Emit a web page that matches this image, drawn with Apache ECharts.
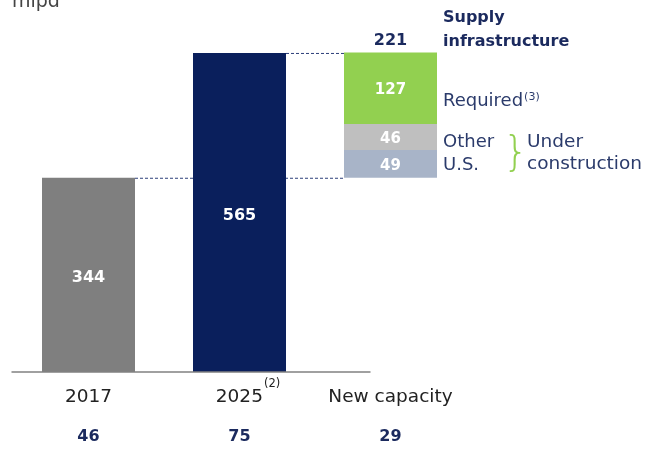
<!DOCTYPE html>
<html>
<head>
<meta charset="utf-8">
<script src="https://cdn.jsdelivr.net/npm/echarts@6/dist/echarts.min.js"></script>
<style>
  html, body { margin: 0; padding: 0; background: #fff; }
  #main { width: 659px; height: 451px; }
</style>
</head>
<body>
<div id="main"></div>
<script>
var categories = ['2017', '2025', 'New capacity'];
var subValues = ['46', '75', '29'];          // second row under the axis
var totals = [344, 565, 344];                // last one is the invisible base of the stack
var usUnder = ['-', '-', 49];
var otherUnder = ['-', '-', 46];
var required = ['-', '-', 127];
var newTotal = ['-', '-', 221];              // as printed (rounded)

var navy = '#0a1f5c';
var textNavy = '#1b2a5e';
var numFont = 'DejaVu Sans';
var txtFont = 'DejaVu Sans';
var BAR_W = 93;

var chart = echarts.init(document.getElementById('main'));

var segLabel = { show: true, position: 'inside', offset: [0, 2], fontFamily: numFont, fontSize: 15, fontWeight: 'bold', color: '#fff' };

var option = {
  animation: false,
  title: {
    text: 'mlpd',
    left: 7,
    top: -12,
    textStyle: { fontFamily: txtFont, fontSize: 19, fontWeight: 'normal', color: '#444' }
  },
  grid: { left: 13, width: 453, top: 33.2, bottom: 79 },
  xAxis: [{
    type: 'category',
    data: categories,
    axisLine: { show: false },
    axisTick: { show: false },
    axisLabel: {
      margin: 1,
      formatter: function (v) {
        // the empty p token balances the superscript so the year stays centred
        return v === '2025' ? '{p|}{c|' + v + '}{s|(2)}' : '{c|' + v + '}';
      },
      rich: {
        p: { width: 17, lineHeight: 34 },
        c: { fontFamily: txtFont, fontSize: 18.5, color: '#222', lineHeight: 34, verticalAlign: 'bottom' },
        s: { fontFamily: txtFont, fontSize: 11.5, color: '#222', verticalAlign: 'bottom', padding: [0, 0, 17, 1] }
      }
    }
  }, {
    type: 'category',
    data: subValues,
    position: 'bottom',
    axisLine: { show: false },
    axisTick: { show: false },
    axisLabel: {
      margin: 57,
      fontFamily: numFont,
      fontSize: 16,
      fontWeight: 'bold',
      color: textNavy
    }
  }],
  yAxis: {
    type: 'value',
    min: 0,
    max: 600,
    show: false,
    splitLine: { show: false }
  },
  series: [{
    type: 'bar',
    stack: 'a',
    barWidth: BAR_W,
    z: 3,
    data: totals.map(function (v, i) {
      if (i === 2) {
        return { value: v, itemStyle: { color: 'rgba(0,0,0,0)' }, label: { show: false } };
      }
      return { value: v, itemStyle: { color: i === 0 ? '#7f7f7f' : navy } };
    }),
    label: {
      show: true,
      position: 'inside',
      offset: [0, 3],
      fontFamily: numFont,
      fontSize: 16,
      fontWeight: 'bold',
      color: '#fff'
    }
  }, {
    type: 'bar',
    stack: 'a',
    z: 3,
    data: usUnder,
    itemStyle: { color: '#a8b4c8' },
    label: segLabel
  }, {
    type: 'bar',
    stack: 'a',
    z: 3,
    data: otherUnder,
    itemStyle: { color: '#bfbfbf' },
    label: segLabel
  }, {
    type: 'bar',
    stack: 'a',
    z: 3,
    data: required,
    itemStyle: { color: '#92d050' },
    label: segLabel
  }, {
    // zero height cap, only carries the total above the stack
    type: 'bar',
    stack: 'a',
    z: 3,
    data: ['-', '-', 0],
    itemStyle: { color: 'rgba(0,0,0,0)' },
    label: {
      show: true,
      position: 'top',
      distance: 4,
      formatter: function (p) { return String(newTotal[p.dataIndex]); },
      fontFamily: numFont,
      fontSize: 16,
      fontWeight: 'bold',
      color: textNavy
    }
  }],
  graphic: [
    { type: 'text', left: 443, top: 6, style: { text: 'Supply\ninfrastructure', font: 'bold 16px "DejaVu Sans"', lineHeight: 24, fill: textNavy } },
    { type: 'text', left: 443, top: 92, style: { text: 'Required{s|(3)}', font: '18px "DejaVu Sans"', fill: '#2b3b6b', rich: { s: { font: '11px "DejaVu Sans"', fill: '#2b3b6b', padding: [0, 0, 8, 1] } } } },
    { type: 'text', left: 443, top: 133, style: { text: 'Other', font: '18px "DejaVu Sans"', fill: '#2b3b6b' } },
    { type: 'text', left: 443, top: 156, style: { text: 'U.S.', font: '18px "DejaVu Sans"', fill: '#2b3b6b' } },
    { type: 'text', left: 503, top: 135, style: { text: '}', font: '200 40px "DejaVu Sans"', fill: '#92d050' } },
    { type: 'text', left: 527, top: 131, style: { text: 'Under\nconstruction', font: '18.5px "DejaVu Sans"', lineHeight: 22, fill: '#2b3b6b' } }
  ]
};

chart.setOption(option);

// dashed connectors between bar edges, and the base line, placed from the axes
function px(i, v) { return chart.convertToPixel({ xAxisIndex: 0, yAxisIndex: 0 }, [i, v]); }
var a344 = px(0, totals[0]), c344 = px(2, totals[0]);
var b565 = px(1, totals[1]), c565 = px(2, totals[1]);
var z0 = px(0, 0), z2 = px(2, 0);
var dash = { stroke: '#2c3f7a', lineWidth: 1, lineDash: [3, 2] };
chart.setOption({
  graphic: option.graphic.concat([
    { type: 'line', z: 1, shape: { x1: a344[0] + BAR_W / 2, y1: a344[1] + 0.5, x2: c344[0] - BAR_W / 2, y2: c344[1] + 0.5 }, style: dash },
    { type: 'line', z: 1, shape: { x1: b565[0] + BAR_W / 2, y1: b565[1] + 0.5, x2: c565[0] - BAR_W / 2, y2: c565[1] + 0.5 }, style: dash },
    { type: 'line', z: 10, shape: { x1: z0[0] - 77, y1: z0[1], x2: z2[0] - 20, y2: z2[1] }, style: { stroke: '#808080', lineWidth: 1.5 } }
  ])
});
</script>
</body>
</html>
